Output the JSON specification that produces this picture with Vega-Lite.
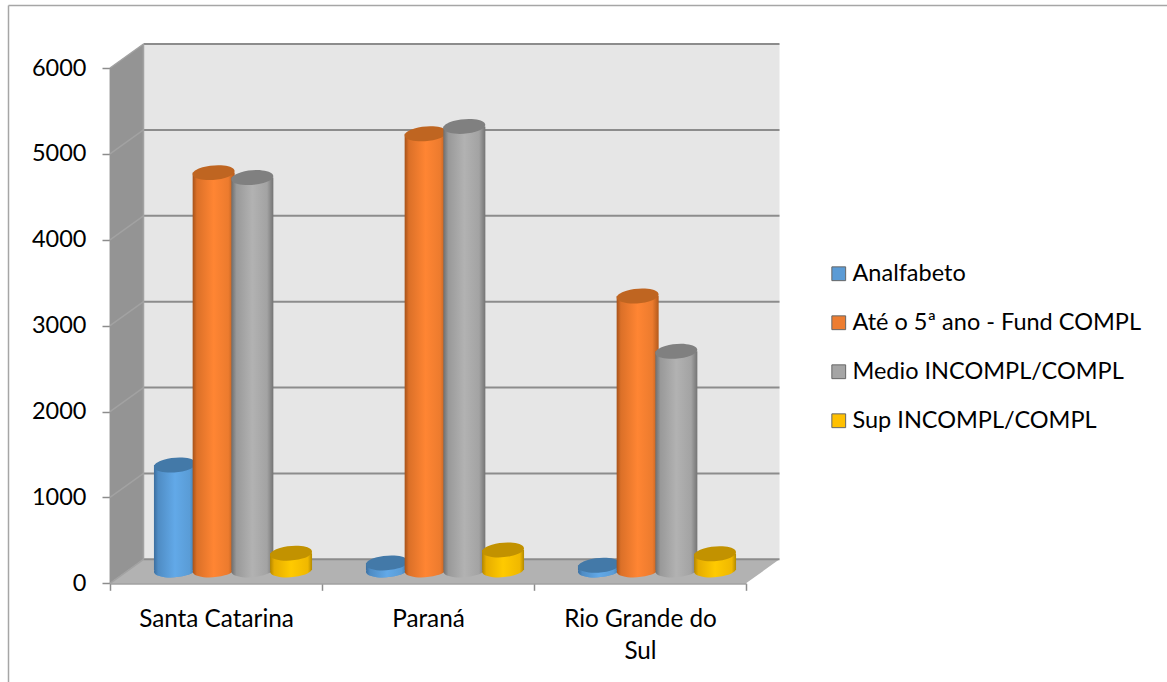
{"$schema":"https://vega.github.io/schema/vega-lite/v6.json","width":1159,"height":677,"autosize":{"type":"none"},"padding":{"left":8,"top":5,"right":0,"bottom":0},"background":"white","config":{"view":{"stroke":null},"font":"Lato"},
"datasets":{"rows":[
{"uf":"Santa Catarina","nivel":"Analfabeto","total":1222},
{"uf":"Santa Catarina","nivel":"Até o 5ª ano - Fund COMPL","total":4627},
{"uf":"Santa Catarina","nivel":"Medio INCOMPL/COMPL","total":4569},
{"uf":"Santa Catarina","nivel":"Sup INCOMPL/COMPL","total":195},
{"uf":"Paraná","nivel":"Analfabeto","total":82},
{"uf":"Paraná","nivel":"Até o 5ª ano - Fund COMPL","total":5079},
{"uf":"Paraná","nivel":"Medio INCOMPL/COMPL","total":5165},
{"uf":"Paraná","nivel":"Sup INCOMPL/COMPL","total":233},
{"uf":"Rio Grande do Sul","nivel":"Analfabeto","total":55},
{"uf":"Rio Grande do Sul","nivel":"Até o 5ª ano - Fund COMPL","total":3190},
{"uf":"Rio Grande do Sul","nivel":"Medio INCOMPL/COMPL","total":2546},
{"uf":"Rio Grande do Sul","nivel":"Sup INCOMPL/COMPL","total":189}],
"levels":[{"v":0},{"v":1000},{"v":2000},{"v":3000},{"v":4000},{"v":5000},{"v":6000}],
"side":[{"p":0,"a":0,"b":6000},{"p":0.158,"a":279,"b":6279}],
"floor":[{"p":0,"a":0,"b":0},{"p":0.158,"a":0,"b":279},{"p":3,"a":0,"b":279},{"p":3.158,"a":279,"b":279}]},
"data":{"name":"rows"},
"resolve":{"scale":{"x":"independent","y":"independent"},"axis":{"x":"independent","y":"independent"}},
"layer":[
{"data":{"values":[{"p":0,"q":0},{"p":1,"q":1}]},"mark":{"type":"point","opacity":0},"encoding":{
"x":{"field":"p","type":"quantitative","scale":{"domain":[0,1],"range":[0,1159]},"axis":{"orient":"top","labels":false,"ticks":false,"grid":false,"title":null,"domainColor":"#a6a6a6","domainWidth":1.5}},
"y":{"field":"q","type":"quantitative","scale":{"domain":[0,1],"range":[677,0]},"axis":{"orient":"left","labels":false,"ticks":false,"grid":false,"title":null,"domainColor":"#a6a6a6","domainWidth":1.5}}}},
{"layer":[
{"data":{"name":"side"},"mark":{"type":"area","color":"#949494"},"encoding":{"x":{"field":"p","type":"quantitative","scale":{"domain":[0,3],"range":[102,738]},"axis":null},"y":{"field":"a","type":"quantitative","scale":{"domain":[0,6000],"range":[578.3,63]},"axis":null},"y2":{"field":"b"}}},
{"data":{"name":"floor"},"mark":{"type":"area","color":"#b2b2b2"},"encoding":{"x":{"field":"p","type":"quantitative","scale":{"domain":[0,3],"range":[102,738]},"axis":null},"y":{"field":"a","type":"quantitative","scale":{"domain":[0,6000],"range":[578.3,63]},"axis":null},"y2":{"field":"b"}}},
{"data":{"values":[{"w":1}]},"mark":{"type":"rect","color":"#e6e6e6","xOffset":33.5,"x2Offset":33.5,"yOffset":-24,"y2Offset":-24},"encoding":{"x":{"datum":0,"type":"quantitative","scale":{"domain":[0,3],"range":[102,738]},"axis":null},"x2":{"datum":3},"y":{"datum":0,"type":"quantitative","scale":{"domain":[0,6000],"range":[578.3,63]},"axis":null},"y2":{"datum":6000}}},
{"data":{"name":"levels"},"mark":{"type":"rule","color":"#a2a2a2","strokeWidth":1.5,"x2Offset":33.5,"y2Offset":-24},"encoding":{"x":{"datum":0,"type":"quantitative","scale":{"domain":[0,3],"range":[102,738]},"axis":null},"x2":{"datum":0},"y":{"field":"v","type":"quantitative","scale":{"domain":[0,6000],"range":[578.3,63]},"axis":null},"y2":{"field":"v"}}},
{"data":{"name":"levels"},"mark":{"type":"rule","color":"#8c8c8c","strokeWidth":2,"xOffset":33.5,"x2Offset":33.5,"yOffset":-24,"y2Offset":-24},"encoding":{"x":{"datum":0,"type":"quantitative","scale":{"domain":[0,3],"range":[102,738]},"axis":null},"x2":{"datum":3},"y":{"field":"v","type":"quantitative","scale":{"domain":[0,6000],"range":[578.3,63]},"axis":null},"y2":{"field":"v"}}},
{"data":{"values":[{"w":1}]},"mark":{"type":"rule","color":"#a2a2a2","strokeWidth":1.5,"xOffset":33.5,"x2Offset":33.5,"yOffset":-24,"y2Offset":-24},"encoding":{"x":{"datum":0,"type":"quantitative","scale":{"domain":[0,3],"range":[102,738]},"axis":null},"y":{"datum":0,"type":"quantitative","scale":{"domain":[0,6000],"range":[578.3,63]},"axis":null},"y2":{"datum":6000}}}
]},
{"encoding":{
"x":{"field":"uf","type":"nominal","scale":{"domain":["Santa Catarina","Paraná","Rio Grande do Sul"],"range":[102,738],"paddingInner":0,"paddingOuter":0},"axis":{"title":null,"orient":"bottom","offset":-98.7,"domainColor":"#a0a0a0","domainWidth":2,"tickColor":"#8c8c8c","tickWidth":1.5,"tickSize":7,"tickBand":"extent","labelAngle":0,"labelFont":"Lato","labelFontSize":24.3,"labelColor":"#000000","labelPadding":17,"labelLimit":300,"labelLineHeight":32,"labelExpr":"datum.label == 'Rio Grande do Sul' ? ['Rio Grande do','Sul'] : datum.label"}},
"xOffset":{"field":"nivel","type":"nominal","scale":{"domain":["Analfabeto","Até o 5ª ano - Fund COMPL","Medio INCOMPL/COMPL","Sup INCOMPL/COMPL"],"range":[45.6,200.4],"padding":0}},
"y":{"field":"total","type":"quantitative","stack":null,"scale":{"domain":[0,6000],"range":[578.3,63]},"axis":{"title":null,"orient":"left","offset":-102,"values":[0,1000,2000,3000,4000,5000,6000],"grid":false,"format":"d","domainColor":"#a0a0a0","domainWidth":2,"tickColor":"#8c8c8c","tickWidth":1.5,"tickSize":8,"labelFont":"Lato","labelFontSize":23.5,"labelColor":"#000000","labelPadding":16}}},
"layer":[
{"transform":[{"filter":"datum.nivel === 'Analfabeto'"}],"mark":{"type":"point","filled":true,"opacity":1,"size":1764,"shape":"M-0.996,0.087 A1,0.34 -5 1 1 0.996,-0.087 A1,0.34 -5 1 1 -0.996,0.087 Z","yOffset":-13.3},"encoding":{"y":{"datum":0,"type":"quantitative"},
"fill":{"field":"nivel","type":"nominal","scale":{"domain":["Analfabeto","Até o 5ª ano - Fund COMPL","Medio INCOMPL/COMPL","Sup INCOMPL/COMPL"],"range":["#5b9bd5","#ed7d31","#a5a5a5","#ffc000"]},"legend":{"title":null,"orient":"none","legendX":819,"legendY":257,"symbolType":"square","symbolSize":190,"symbolStrokeWidth":1,"symbolStrokeColor":"#666666","labelFont":"Lato","labelFontSize":23.5,"labelColor":"#000000","labelLimit":400,"rowPadding":24,"labelOffset":2,"values":["Analfabeto","Até o 5ª ano - Fund COMPL","Medio INCOMPL/COMPL","Sup INCOMPL/COMPL"]}}}},
{"transform":[{"filter":"datum.nivel === 'Analfabeto'"}],"mark":{"type":"point","filled":true,"opacity":1,"size":1764,"shape":"M-0.996,0.087 A1,0.34 -5 1 1 0.996,-0.087 A1,0.34 -5 1 1 -0.996,0.087 Z","yOffset":-13.3,"color":{"gradient":"linear","x1":0,"x2":1,"y1":0,"y2":0,"stops":[{"offset":0,"color":"#3c6e9e"},{"offset":0.1,"color":"#4f8cc4"},{"offset":0.5,"color":"#62a9e8"},{"offset":0.85,"color":"#5a9cd6"},{"offset":1,"color":"#3f75a6"}]}},"encoding":{"y":{"datum":0,"type":"quantitative"}}},
{"transform":[{"filter":"datum.nivel === 'Analfabeto'"}],"mark":{"type":"bar","width":42,"yOffset":-13.3,"y2Offset":-13.3,"color":{"gradient":"linear","x1":0,"x2":1,"y1":0,"y2":0,"stops":[{"offset":0,"color":"#3c6e9e"},{"offset":0.1,"color":"#4f8cc4"},{"offset":0.5,"color":"#62a9e8"},{"offset":0.85,"color":"#5a9cd6"},{"offset":1,"color":"#3f75a6"}]}},"encoding":{"y2":{"datum":0}}},
{"transform":[{"filter":"datum.nivel === 'Analfabeto'"}],"mark":{"type":"point","filled":true,"opacity":1,"size":1764,"color":"#4379a8","shape":"M-0.996,0.087 A1,0.34 -5 1 1 0.996,-0.087 A1,0.34 -5 1 1 -0.996,0.087 Z","yOffset":-13.3}},
{"transform":[{"filter":"datum.nivel === 'Até o 5ª ano - Fund COMPL'"}],"mark":{"type":"point","filled":true,"opacity":1,"size":1764,"shape":"M-0.996,0.087 A1,0.34 -5 1 1 0.996,-0.087 A1,0.34 -5 1 1 -0.996,0.087 Z","yOffset":-13.3,"color":{"gradient":"linear","x1":0,"x2":1,"y1":0,"y2":0,"stops":[{"offset":0,"color":"#a6521a"},{"offset":0.1,"color":"#db7028"},{"offset":0.5,"color":"#ff8533"},{"offset":0.85,"color":"#ec7b2e"},{"offset":1,"color":"#b35a1c"}]}},"encoding":{"y":{"datum":0,"type":"quantitative"}}},
{"transform":[{"filter":"datum.nivel === 'Até o 5ª ano - Fund COMPL'"}],"mark":{"type":"bar","width":42,"yOffset":-13.3,"y2Offset":-13.3,"color":{"gradient":"linear","x1":0,"x2":1,"y1":0,"y2":0,"stops":[{"offset":0,"color":"#a6521a"},{"offset":0.1,"color":"#db7028"},{"offset":0.5,"color":"#ff8533"},{"offset":0.85,"color":"#ec7b2e"},{"offset":1,"color":"#b35a1c"}]}},"encoding":{"y2":{"datum":0}}},
{"transform":[{"filter":"datum.nivel === 'Até o 5ª ano - Fund COMPL'"}],"mark":{"type":"point","filled":true,"opacity":1,"size":1764,"color":"#bf6521","shape":"M-0.996,0.087 A1,0.34 -5 1 1 0.996,-0.087 A1,0.34 -5 1 1 -0.996,0.087 Z","yOffset":-13.3}},
{"transform":[{"filter":"datum.nivel === 'Medio INCOMPL/COMPL'"}],"mark":{"type":"point","filled":true,"opacity":1,"size":1764,"shape":"M-0.996,0.087 A1,0.34 -5 1 1 0.996,-0.087 A1,0.34 -5 1 1 -0.996,0.087 Z","yOffset":-13.3,"color":{"gradient":"linear","x1":0,"x2":1,"y1":0,"y2":0,"stops":[{"offset":0,"color":"#6e6e6e"},{"offset":0.12,"color":"#999999"},{"offset":0.5,"color":"#b2b2b2"},{"offset":0.85,"color":"#a3a3a3"},{"offset":1,"color":"#747474"}]}},"encoding":{"y":{"datum":0,"type":"quantitative"}}},
{"transform":[{"filter":"datum.nivel === 'Medio INCOMPL/COMPL'"}],"mark":{"type":"bar","width":42,"yOffset":-13.3,"y2Offset":-13.3,"color":{"gradient":"linear","x1":0,"x2":1,"y1":0,"y2":0,"stops":[{"offset":0,"color":"#6e6e6e"},{"offset":0.12,"color":"#999999"},{"offset":0.5,"color":"#b2b2b2"},{"offset":0.85,"color":"#a3a3a3"},{"offset":1,"color":"#747474"}]}},"encoding":{"y2":{"datum":0}}},
{"transform":[{"filter":"datum.nivel === 'Medio INCOMPL/COMPL'"}],"mark":{"type":"point","filled":true,"opacity":1,"size":1764,"color":"#808080","shape":"M-0.996,0.087 A1,0.34 -5 1 1 0.996,-0.087 A1,0.34 -5 1 1 -0.996,0.087 Z","yOffset":-13.3}},
{"transform":[{"filter":"datum.nivel === 'Sup INCOMPL/COMPL'"}],"mark":{"type":"point","filled":true,"opacity":1,"size":1764,"shape":"M-0.996,0.087 A1,0.34 -5 1 1 0.996,-0.087 A1,0.34 -5 1 1 -0.996,0.087 Z","yOffset":-13.3,"color":{"gradient":"linear","x1":0,"x2":1,"y1":0,"y2":0,"stops":[{"offset":0,"color":"#b38600"},{"offset":0.1,"color":"#e6ad00"},{"offset":0.5,"color":"#ffca00"},{"offset":0.9,"color":"#f0b800"},{"offset":1,"color":"#b38a00"}]}},"encoding":{"y":{"datum":0,"type":"quantitative"}}},
{"transform":[{"filter":"datum.nivel === 'Sup INCOMPL/COMPL'"}],"mark":{"type":"bar","width":42,"yOffset":-13.3,"y2Offset":-13.3,"color":{"gradient":"linear","x1":0,"x2":1,"y1":0,"y2":0,"stops":[{"offset":0,"color":"#b38600"},{"offset":0.1,"color":"#e6ad00"},{"offset":0.5,"color":"#ffca00"},{"offset":0.9,"color":"#f0b800"},{"offset":1,"color":"#b38a00"}]}},"encoding":{"y2":{"datum":0}}},
{"transform":[{"filter":"datum.nivel === 'Sup INCOMPL/COMPL'"}],"mark":{"type":"point","filled":true,"opacity":1,"size":1764,"color":"#c29200","shape":"M-0.996,0.087 A1,0.34 -5 1 1 0.996,-0.087 A1,0.34 -5 1 1 -0.996,0.087 Z","yOffset":-13.3}}
]}
]}
